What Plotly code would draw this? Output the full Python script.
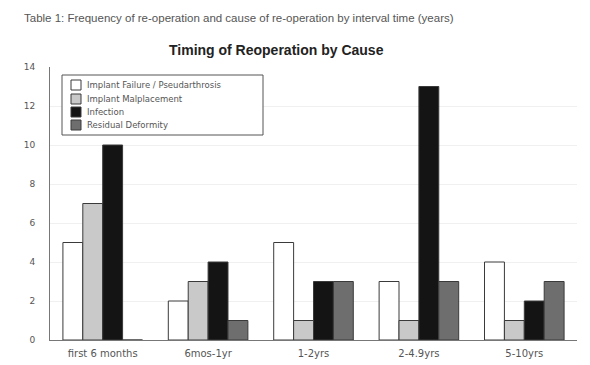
import plotly.graph_objects as go

# Reoperation counts by time since surgery and cause
periods = ["first 6 months", "6mos-1yr", "1-2yrs", "2-4.9yrs", "5-10yrs"]
causes = ["Implant Failure / Pseudarthrosis", "Implant Malplacement", "Infection", "Residual Deformity"]
implant_failure = [5, 2, 5, 3, 4]
malplacement = [7, 3, 1, 1, 1]
infection = [10, 4, 3, 13, 2]
residual_deformity = [0, 1, 3, 3, 3]
y_ticks = [0, 2, 4, 6, 8, 10, 12, 14]

series = [implant_failure, malplacement, infection, residual_deformity]
fills = ["#ffffff", "#c9c9c9", "#141414", "#6e6e6e"]
outline = "#3a3a3a"

W, H = 590, 365
ML, MR, MT, MB = 50, 13, 67, 25
PW, PH = W - ML - MR, H - MT - MB


def px_x(px):
    return (px - ML) / PW


def px_y(py):
    return (H - MB - py) / PH


fig = go.Figure()
for name, vals, col in zip(causes, series, fills):
    fig.add_trace(go.Bar(
        x=periods, y=vals, name=name,
        marker=dict(color=col, line=dict(color=outline, width=1)),
    ))

fig.update_layout(
    width=W, height=H,
    margin=dict(l=ML, r=MR, t=MT, b=MB),
    paper_bgcolor="white", plot_bgcolor="white",
    barmode="group", bargap=0.245, bargroupgap=0,
    font=dict(family="DejaVu Sans, Liberation Sans, sans-serif", color="#444"),
    showlegend=False,
)

# header line above the chart
fig.add_annotation(
    text="Table 1: Frequency of re-operation and cause of re-operation by interval time (years)",
    xref="paper", yref="paper", x=px_x(22), y=px_y(18), xanchor="left", yanchor="middle",
    showarrow=False, font=dict(family="Liberation Sans, sans-serif", size=11.5, color="#555"),
)
fig.add_annotation(
    text="<b>Timing of Reoperation by Cause</b>",
    xref="paper", yref="paper", x=px_x(276), y=px_y(50), xanchor="center", yanchor="middle",
    showarrow=False, font=dict(family="Liberation Sans, Arial, sans-serif", size=14, color="#222"),
)

# boxed key in the upper left of the plot
fig.add_shape(type="rect", xref="paper", yref="paper",
              x0=px_x(62), x1=px_x(263), y0=px_y(135), y1=px_y(75),
              line=dict(color="#555", width=1), fillcolor="white", layer="above")
row_y = [85, 99, 112, 125]
for name, col, ry in zip(causes, fills, row_y):
    fig.add_shape(type="rect", xref="paper", yref="paper",
                  x0=px_x(71), x1=px_x(81), y0=px_y(ry + 5), y1=px_y(ry - 5),
                  line=dict(color=outline, width=1), fillcolor=col, layer="above")
    fig.add_annotation(text=name, xref="paper", yref="paper",
                       x=px_x(85), y=px_y(ry), xanchor="left", yanchor="middle",
                       showarrow=False, font=dict(size=8.5, color="#555"))

fig.update_xaxes(
    automargin=False,
    showline=True, linecolor="#777", linewidth=1,
    ticks="", ticklabelstandoff=4, tickfont=dict(size=10, color="#555"),
)
fig.update_yaxes(
    automargin=False,
    range=[0, 14], tickvals=y_ticks,
    showline=True, linecolor="#777", linewidth=1,
    showgrid=True, gridcolor="#f0f0f0",
    ticks="", ticklabelstandoff=12, tickfont=dict(size=9, color="#555"),
    zeroline=False,
)

fig.write_html("out.html")
